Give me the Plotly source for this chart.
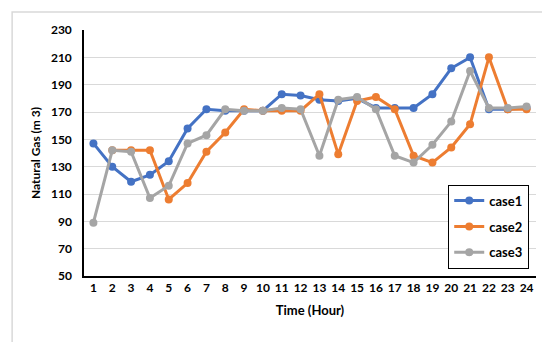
import plotly.graph_objects as go

hours = list(range(1, 25))
case1 = [147, 130, 119, 124, 134, 158, 172, 171, 171, 171, 183, 182, 179, 178, 180, 173, 173, 173, 183, 202, 210, 172, 172, 173]
case2 = [None, 142, 142, 142, 106, 118, 141, 155, 172, 171, 171, 171, 183, 139, 178, 181, 172, 138, 133, 144, 161, 210, 172, 172]
case3 = [89, 142, 141, 107, 116, 147, 153, 172, 171, 171, 173, 172, 138, 179, 181, 172, 138, 133, 146, 163, 200, 173, 173, 174]

series = [("case1", case1, "#4472C4"), ("case2", case2, "#ED7D31"), ("case3", case3, "#A5A5A5")]

FONT = "Lato, 'Open Sans', sans-serif"

fig = go.Figure()
for name, vals, color in series:
    fig.add_trace(go.Scatter(
        x=hours, y=vals, name=name, mode="lines+markers",
        line=dict(color=color, width=3),
        marker=dict(color=color, size=8),
        connectgaps=False, legendgroup=name,
    ))

fig.update_layout(
    width=550, height=342,
    margin=dict(l=76, r=22, t=22, b=74),
    paper_bgcolor="white", plot_bgcolor="white",
    font=dict(family=FONT, size=12, color="black"),
    showlegend=True,
    legend=dict(
        x=0.985, y=0.03, xanchor="right", yanchor="bottom",
        bordercolor="black", borderwidth=1, bgcolor="white",
        font=dict(family=FONT, size=13, color="black", weight="bold"),
        itemwidth=30, tracegroupgap=6,
    ),
    xaxis=dict(
        range=[0.5, 24.5], tickmode="array", tickvals=hours,
        ticktext=[str(h) for h in hours],
        showgrid=False, zeroline=False,
        showline=True, linecolor="black", linewidth=1.5,
        ticks="", tickfont=dict(family=FONT, size=12, weight="bold"),
        title=dict(text="Time (Hour)", font=dict(family=FONT, size=13, weight="bold"), standoff=12),
    ),
    yaxis=dict(
        range=[50, 230], tickmode="array", tickvals=list(range(50, 231, 20)),
        showgrid=True, gridcolor="#D9D9D9", gridwidth=1, zeroline=False,
        showline=True, linecolor="black", linewidth=1.5,
        ticks="", tickfont=dict(family=FONT, size=12, weight="bold"),
        ticklabelstandoff=8,
        title=dict(text="Natural Gas (m 3)", font=dict(family=FONT, size=12, weight="bold"), standoff=8),
    ),
)

fig.add_shape(type="rect", xref="paper", yref="paper",
              x0=-0.159, x1=1.027, y0=-0.276, y1=1.073,
              line=dict(color="#D9D9D9", width=1.5), layer="above")

fig.write_html("out.html")
